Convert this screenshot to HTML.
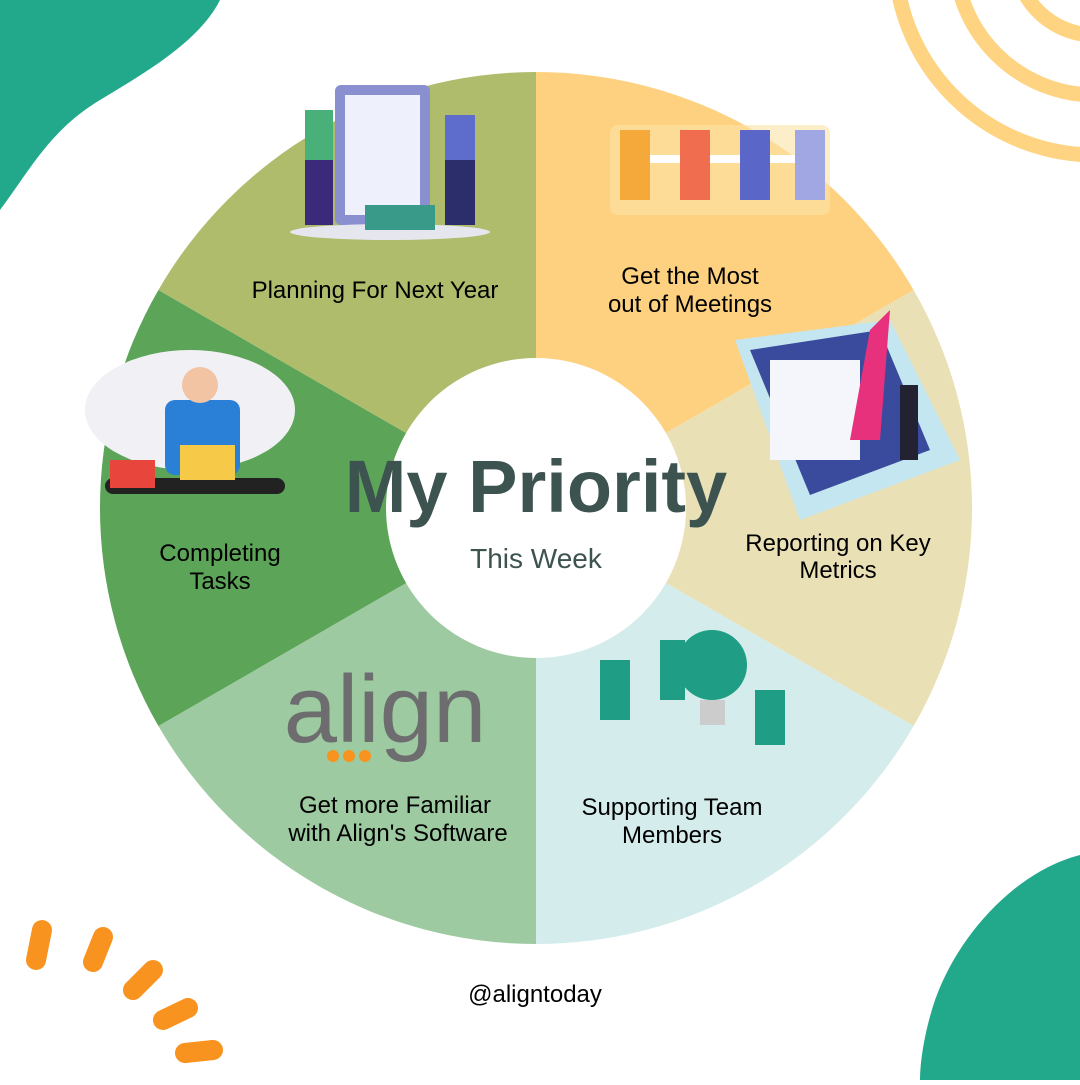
<!DOCTYPE html>
<html><head><meta charset="utf-8"><style>
body{margin:0;width:1080px;height:1080px;overflow:hidden;background:#fff;font-family:"Liberation Sans",sans-serif}
</style></head><body>
<svg width="1080" height="1080" viewBox="0 0 1080 1080" xmlns="http://www.w3.org/2000/svg">
<path d="M0 0 L220 0 C200 40 150 70 100 100 C50 130 30 170 0 210 Z" fill="#22a98c"/>
<g fill="none" stroke="#fed482" stroke-width="15">
<circle cx="1095" cy="-45" r="200"/>
<circle cx="1095" cy="-45" r="140"/>
<circle cx="1095" cy="-45" r="80"/>
</g>
<path d="M1080 855 C1020 870 960 930 935 1000 C925 1030 920 1060 920 1080 L1080 1080 Z" fill="#22a98c"/>
<g stroke="#f7931e" stroke-width="20" stroke-linecap="round">
<line x1="42" y1="930" x2="36" y2="960"/>
<line x1="103" y1="937" x2="93" y2="962"/>
<line x1="153" y1="970" x2="133" y2="990"/>
<line x1="188" y1="1008" x2="163" y2="1020"/>
<line x1="213" y1="1050" x2="185" y2="1053"/>
</g>
<path d="M536 508 L536 72 A436 436 0 0 1 913.6 290 Z" fill="#fdd17f"/>
<path d="M536 508 L913.6 290 A436 436 0 0 1 913.6 726 Z" fill="#e9e0b6"/>
<path d="M536 508 L913.6 726 A436 436 0 0 1 536 944 Z" fill="#d4ecec"/>
<path d="M536 508 L536 944 A436 436 0 0 1 158.4 726 Z" fill="#9dcaa0"/>
<path d="M536 508 L158.4 726 A436 436 0 0 1 158.4 290 Z" fill="#5ba458"/>
<path d="M536 508 L158.4 290 A436 436 0 0 1 536 72 Z" fill="#aebc6c"/>
<circle cx="536" cy="508" r="150" fill="#fff"/>
<rect x="335" y="85" width="95" height="140" rx="6" fill="#8a8fd0"/>
<rect x="345" y="95" width="75" height="120" fill="#eef0fb"/>
<ellipse cx="390" cy="232" rx="100" ry="8" fill="#e6e6ee"/>
<rect x="305" y="110" width="28" height="50" fill="#49b07a"/><rect x="305" y="160" width="28" height="65" fill="#3b2a7a"/>
<rect x="445" y="115" width="30" height="45" fill="#5e6dcc"/><rect x="445" y="160" width="30" height="65" fill="#2c2d6b"/>
<rect x="365" y="205" width="70" height="25" fill="#3a9a8a"/>
<rect x="610" y="125" width="220" height="90" rx="8" fill="#fce2a6" opacity="0.6"/>
<rect x="650" y="155" width="170" height="8" fill="#fff"/>
<rect x="620" y="130" width="30" height="70" fill="#f4a93a"/><rect x="680" y="130" width="30" height="70" fill="#f06d4f"/>
<rect x="740" y="130" width="30" height="70" fill="#5a66c8"/><rect x="795" y="130" width="30" height="70" fill="#a1a7e3"/>
<path d="M735 340 L890 320 L960 460 L800 520 Z" fill="#c4e6f0"/>
<path d="M750 350 L880 330 L930 450 L810 495 Z" fill="#3a4a9c"/>
<rect x="770" y="360" width="90" height="100" fill="#f4f6fb"/>
<path d="M850 440 L870 330 L890 310 L880 440 Z" fill="#e8317d"/>
<rect x="900" y="385" width="18" height="75" fill="#223"/>
<ellipse cx="190" cy="410" rx="105" ry="60" fill="#f0f0f5"/>
<rect x="105" y="478" width="180" height="16" rx="8" fill="#222"/>
<rect x="165" y="400" width="75" height="75" rx="10" fill="#2a7fd6"/>
<circle cx="200" cy="385" r="18" fill="#f3c4a4"/>
<rect x="180" y="445" width="55" height="35" fill="#f7c948"/>
<rect x="110" y="460" width="45" height="28" fill="#e8453c"/>
<rect x="600" y="660" width="30" height="60" fill="#1f9e85"/><rect x="660" y="640" width="25" height="60" fill="#1f9e85"/>
<circle cx="712" cy="665" r="35" fill="#1f9e85"/><rect x="700" y="700" width="25" height="25" fill="#ccc"/>
<rect x="755" y="690" width="30" height="55" fill="#1f9e85"/>
<g fill="#000" font-size="24" text-anchor="middle">
<text x="375" y="298">Planning For Next Year</text>
<text x="690" y="284">Get the Most</text>
<text x="690" y="312">out of Meetings</text>
<text x="838" y="551">Reporting on Key</text>
<text x="838" y="578">Metrics</text>
<text x="220" y="561">Completing</text>
<text x="220" y="589">Tasks</text>
<text x="395" y="813">Get more Familiar</text>
<text x="398" y="841">with Align's Software</text>
<text x="672" y="815">Supporting Team</text>
<text x="672" y="843">Members</text>
<text x="535" y="1002">@aligntoday</text>
</g>
<text x="536" y="512" text-anchor="middle" font-size="74" font-weight="bold" fill="#3d5350">My Priority</text>
<text x="536" y="568" text-anchor="middle" font-size="28" fill="#3d5350">This Week</text>
<text x="385" y="742" text-anchor="middle" font-size="96" fill="#6d6d6f">align</text>
<circle cx="333" cy="756" r="6" fill="#f7931e"/><circle cx="349" cy="756" r="6" fill="#f7931e"/><circle cx="365" cy="756" r="6" fill="#f7931e"/>
</svg>
</body></html>
